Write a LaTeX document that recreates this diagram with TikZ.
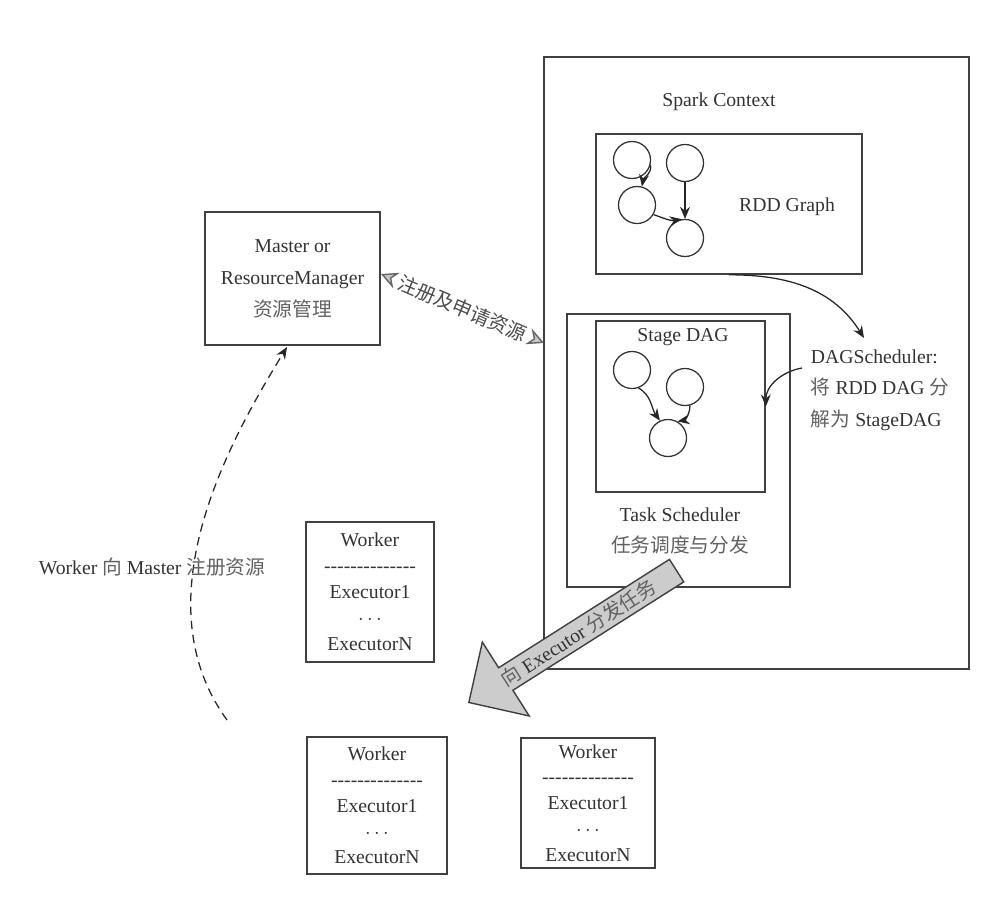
\documentclass[tikz,border=0pt]{standalone}
\usepackage{fontspec}
\setmainfont{Liberation Serif}
\newfontfamily\cjk{Noto Sans CJK SC}
\usetikzlibrary{arrows.meta,shapes.arrows,positioning}

\newcommand{\zhtxt}[1]{{\cjk\color{black!62}#1}}
\newcommand{\hyphrow}{-\kern0pt-\kern0pt-\kern0pt-\kern0pt-\kern0pt-\kern0pt-\kern0pt-\kern0pt-\kern0pt-\kern0pt-\kern0pt-\kern0pt-\kern0pt-}

\tikzset{
  box/.style={draw=black!75, line width=1.1pt, inner sep=0pt},
  rddc/.style={circle, draw=black!80, line width=0.9pt, minimum size=0.925cm, inner sep=0pt},
  lbl/.style={text=black!80, font=\fontsize{14}{18}\selectfont},
  worker/.style={box, align=center, text=black!80, font=\fontsize{14}{18.4}\selectfont},
  arr/.style={-{Stealth[length=8.5pt,width=7pt]}, draw=black!85, line width=0.9pt},
  regtip/.tip={Stealth[length=12pt,width=12pt,inset=4pt,color=black!60,fill=black!22,line width=1pt]},
  regarr/.style={draw=white, line width=0.5pt, regtip-regtip},
}

\begin{document}
\begin{tikzpicture}[x=0.025cm,y=-0.025cm]
\useasboundingbox (0,0) rectangle (998,902);

% Spark Context side
\node[box, minimum width=10.625cm, minimum height=15.3cm] (spark) at (756.5,363) {};
\node[lbl] (sparklbl) at (719,102) {Spark Context};

\node[box, minimum width=6.65cm, minimum height=3.5cm] (rddbox) at (729,204) {};
\node[lbl] (rddlbl) at (787,207) {RDD Graph};
\node[rddc] (r1) at (632,160) {};
\node[rddc] (r2) at (685,163) {};
\node[rddc] (r3) at (637,205) {};
\node[rddc] (r4) at (685,238) {};
\draw[arr] (r1.-15) to[out=-80,in=80] (r3.75);
\draw[arr] (r2) -- (r4);
\draw[arr] (r3.-30) to[out=-20,in=190] (r4.100);

\node[box, minimum width=5.575cm, minimum height=6.825cm] (task) at (678.5,450.5) {};
\node[box, minimum width=4.225cm, minimum height=4.275cm] (sdag) at (680.5,406.5) {};
\node[lbl] (sdaglbl) at (683,337) {Stage DAG};
\node[rddc] (s1) at (632,370) {};
\node[rddc] (s2) at (685,387) {};
\node[rddc] (s3) at (668,438) {};
\draw[arr] (s1.-70) to[out=-30,in=125] (s3.115);
\draw[arr] (s2.-75) to[out=-90,in=10] (s3.60);
\node[lbl] (tasklbl) at (680,515) {Task Scheduler};
\node[lbl] (taskzh) at (680,545) {\zhtxt{任务调度与分发}};

\node[lbl, anchor=west, align=left, font=\fontsize{14}{22.3}\selectfont] (dagtxt) at (806,390)
  {DAGScheduler:\\\zhtxt{将} RDD DAG \zhtxt{分}\\\zhtxt{解为} StageDAG};
\coordinate (dagin) at (864,338);
\coordinate (dagout) at (802,368);
\draw[arr] (rddbox.south) to[out=0,in=122] (dagin);
\draw[arr] (dagout) to[out=190,in=90] (sdag.east);

% master
\node[box, lbl, align=center, minimum width=4.375cm, minimum height=3.325cm,
  font=\fontsize{14}{22.7}\selectfont] (master) at (292.5,278.5)
  {Master or\\ResourceManager\\\zhtxt{资源管理}};
\coordinate (regout) at (381,274);
\coordinate (regin) at (544,343);
\draw[regarr] (regout) -- node[sloped, lbl, text=black!70] {\cjk 注册及申请资源} (regin);

% workers
\node[worker, minimum width=3.2cm, minimum height=3.5cm] (w1) at (370,592)
  {Worker\\\hyphrow\\Executor1\\$\cdots$\\ExecutorN};
\node[worker, minimum width=3.5cm, minimum height=3.425cm] (w2) at (377,805.5)
  {Worker\\\hyphrow\\Executor1\\$\cdots$\\ExecutorN};
\node[worker, minimum width=3.35cm, minimum height=3.25cm] (w3) at (588,803)
  {Worker\\\hyphrow\\Executor1\\$\cdots$\\ExecutorN};

\coordinate (wreg) at (227,720);
\coordinate (mtip) at (287,347);
\draw[arr, dash pattern=on 6pt off 4pt] (wreg) .. controls (140,600) and (230,440) .. (mtip);
\node[lbl] (wlbl) at (152,567) {Worker \zhtxt{向} Master \zhtxt{注册资源}};

% task dispatch
\node[single arrow, draw=black!75, fill=black!20, line width=1pt, lbl,
  shape border rotate=180, rotate=32.4, minimum height=6.15cm,
  single arrow head extend=0.76cm, inner xsep=2pt, inner ysep=2.5pt,
  anchor=tip] (exarr) at (468,703) {\zhtxt{向} Executor \zhtxt{分发任务}};
\end{tikzpicture}
\end{document}
